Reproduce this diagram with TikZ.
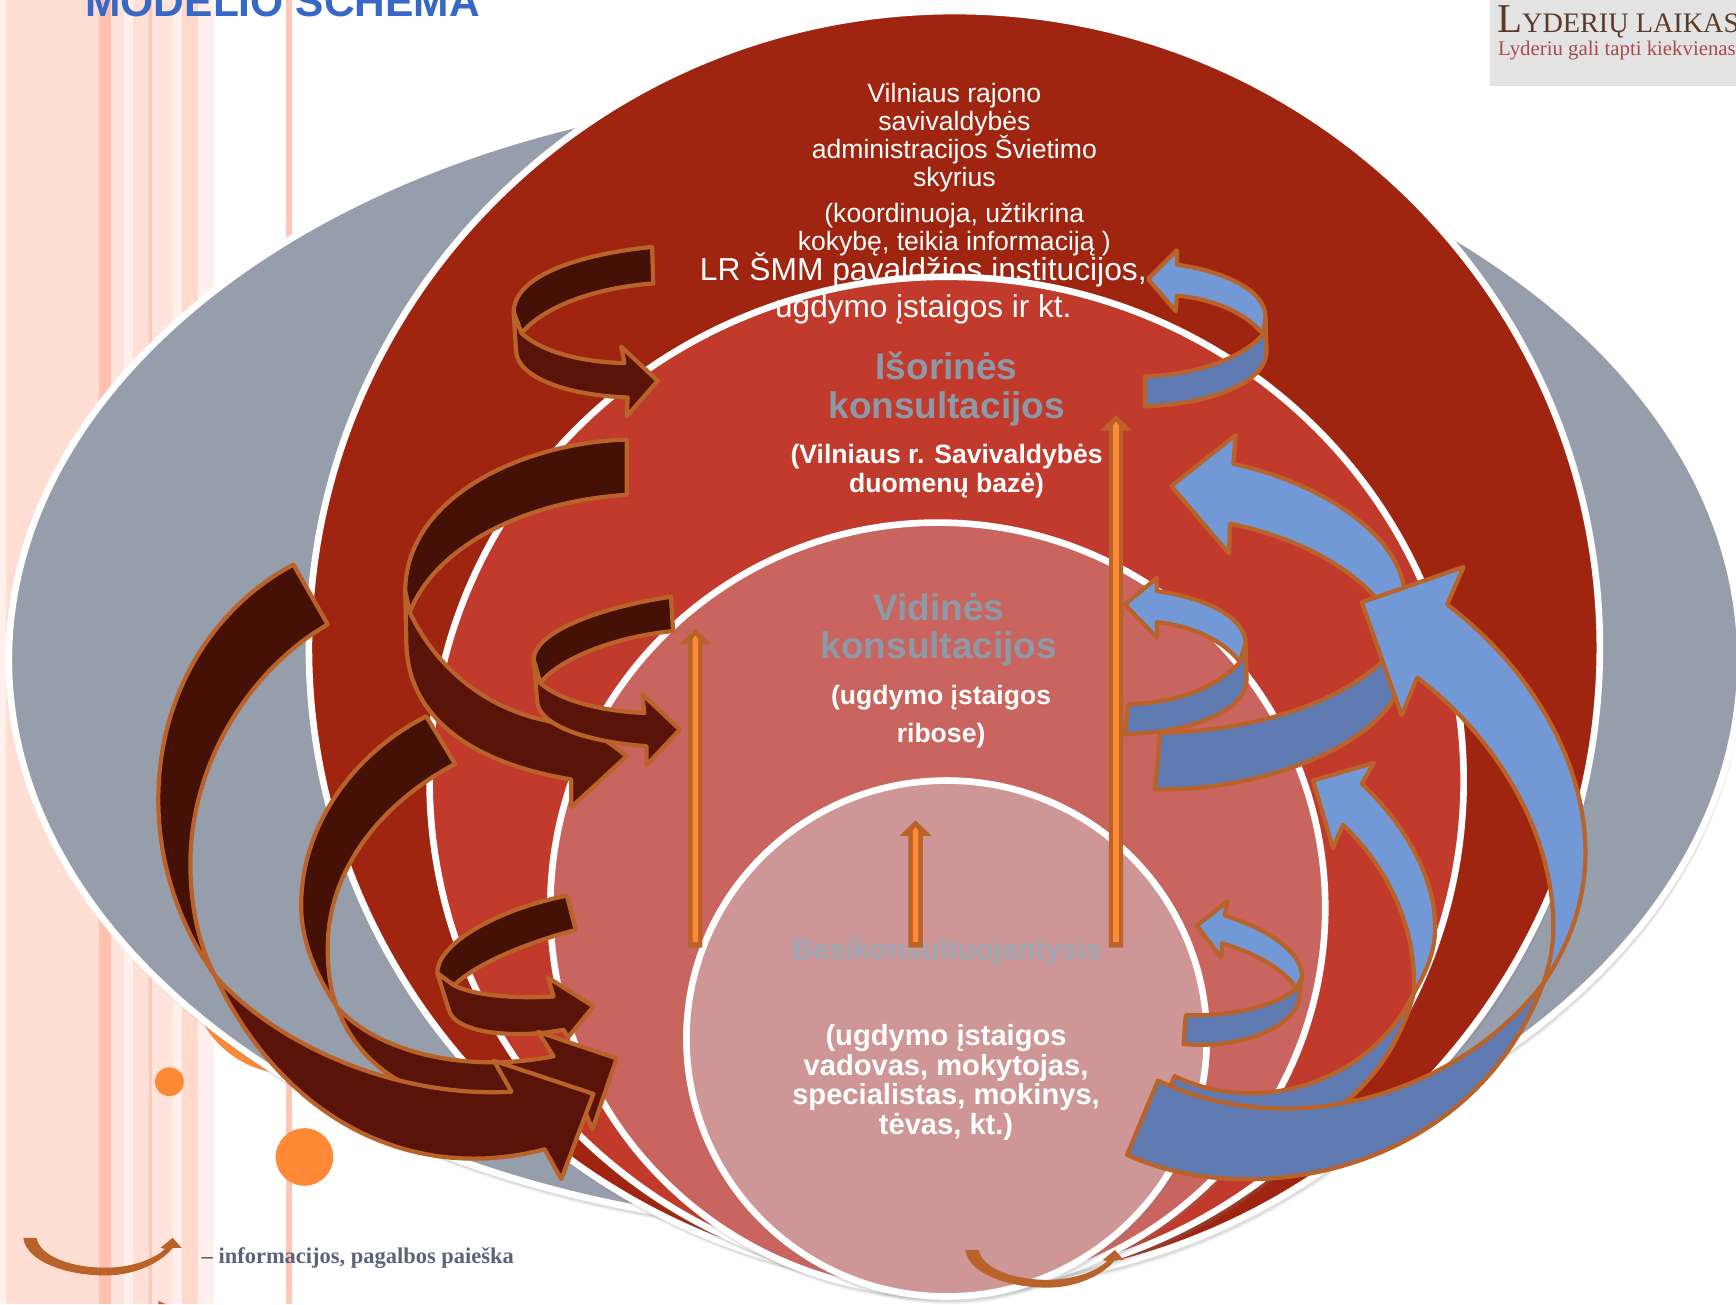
\documentclass[tikz,border=0pt]{standalone}
\usepackage{fontspec}
\setmainfont{Liberation Sans}
\newfontfamily\logofont{Liberation Serif}
\usetikzlibrary{shadows}
\lineskiplimit=-20pt
\definecolor{greydisc}{HTML}{969EAB}
\definecolor{reddisc}{HTML}{A02510}
\definecolor{middisc}{HTML}{C23A2B}
\definecolor{softdisc}{HTML}{C9655E}
\definecolor{pinkdisc}{HTML}{CE9696}
\definecolor{arrowedge}{HTML}{B9622A}
\definecolor{darktop}{HTML}{451006}
\definecolor{darklow}{HTML}{5A1308}
\definecolor{bluetop}{HTML}{7398D6}
\definecolor{bluelow}{HTML}{5F7AB0}
\definecolor{dotorange}{HTML}{FF8A36}
\definecolor{titleblue}{HTML}{3768C6}
\definecolor{headgrey}{HTML}{8E99A8}
\definecolor{legendgrey}{HTML}{5A6378}
\definecolor{logobrown}{HTML}{5C3A28}
\definecolor{logored}{HTML}{A94A4A}
\definecolor{stripeA}{HTML}{FFF0EC}
\definecolor{stripeB}{HTML}{FEDDD3}
\definecolor{stripeC}{HTML}{FFC0AE}
\definecolor{stripeD}{HTML}{FFE4DD}
\definecolor{stripeE}{HTML}{FFDFD6}
\definecolor{stripeF}{HTML}{FFC5B5}
\definecolor{stripeG}{HTML}{FFD9CC}
\tikzset{
  disc/.style={draw=white, line width=6pt,
    drop shadow={shadow xshift=2pt, shadow yshift=-7pt, opacity=.1},
    drop shadow={shadow xshift=1.5pt, shadow yshift=-5.5pt, opacity=.18}},
  ribbon/.style={draw=arrowedge, line width=3.8pt, line join=round},
  leftup/.style={ribbon, fill=darktop},
  leftlow/.style={ribbon, fill=darklow},
  rightup/.style={ribbon, fill=bluetop},
  rightlow/.style={ribbon, fill=bluelow},
  whitetext/.style={text=white, align=center, inner sep=0pt, anchor=base},
  headtext/.style={text=headgrey, align=center, inner sep=0pt, anchor=base, font=\bfseries\fontsize{33.4}{35}\selectfont},
}
\begin{document}
\begin{tikzpicture}[x=1pt, y=-1pt]
  \useasboundingbox (0,0) rectangle (1568,1178);
  \clip (0,0) rectangle (1568,1178);
  \fill[white] (0,0) rectangle (1568,1178);

  % Juostos
  \foreach \xa/\xb/\col in {0/5/stripeA, 5/89/stripeB, 89/100/stripeC, 100/112/stripeD, 112/120/stripeA, 120/135/stripeE, 135/137/stripeF, 137/149/stripeD, 149/156/stripeD, 156/164/stripeA, 164/179/stripeG, 179/193/stripeA, 258/264/stripeF}
    \fill[\col] (\xa,0) rectangle (\xb,1178);

  % Taskai
  \fill[dotorange] (262,880) circle (90);
  \fill[dotorange] (153,977) circle (13);
  \fill[dotorange] (275,1045) circle (26);

  % Pavadinimas
  \node[anchor=base west, inner sep=0pt, text=titleblue, font=\bfseries\fontsize{38.4}{40}\selectfont] (title) at (77,15) {MODELIO SCHEMA};
  \fill[black!11] (1346,0) rectangle (1568,78);
  \node[anchor=base west, inner sep=0pt, text=logobrown, font=\logofont\fontsize{25.5}{30}\selectfont] (logoa) at (1352,29) {{\fontsize{37}{38}\selectfont L}YDERIŲ LAIKAS};
  \node[anchor=base west, inner sep=0pt, text=logored, font=\logofont\fontsize{18.8}{20}\selectfont] (logob) at (1353,50) {Lyderiu gali tapti kiekvienas};

  % Skrituliai
  \path[disc, fill=greydisc] (790,596) ellipse [x radius=782, y radius=515];
  \path[disc, fill=reddisc] (862,585) ellipse [x radius=583, y radius=575];
  \node[anchor=base west, inner sep=0pt, text=white, font=\fontsize{28.7}{30}\selectfont] (lrsmm) at (632,253.5) {LR ŠMM pavaldžios institucijos,};
  \path[disc, fill=middisc] (855,705) ellipse [x radius=467, y radius=455];
  \path[disc, fill=softdisc] (847,820) ellipse [x radius=350, y radius=348];
  \path[disc, fill=pinkdisc] (855,938) ellipse [x radius=235, y radius=233];

  % Tekstai
  \node[whitetext, font=\fontsize{24}{25}\selectfont] (svietimas) at (862,168) {Vilniaus rajono\\savivaldybės\\administracijos Švietimo\\skyrius};
  \node[whitetext, font=\fontsize{24}{25.5}\selectfont] (kokybe) at (862,226.5) {(koordinuoja, užtikrina\\kokybę, teikia informaciją )};
  \node[whitetext, font=\fontsize{28.5}{30}\selectfont] (ugdymas) at (834,286.5) {ugdymo įstaigos ir kt.};
  \node[headtext] (isorines) at (855,378) {Išorinės\\konsultacijos};
  \node[whitetext, font=\bfseries\fontsize{24}{26}\selectfont] (baze) at (855,444.5) {(Vilniaus r. Savivaldybės\\duomenų bazė)};
  \node[headtext] (vidines) at (848,595) {Vidinės\\konsultacijos};
  \node[whitetext, font=\bfseries\fontsize{24}{35}\selectfont] (ribose) at (850,671) {(ugdymo įstaigos\\ribose)};
  \node[text=headgrey!85!white, inner sep=0pt, anchor=base, font=\bfseries\fontsize{26.4}{28}\selectfont] (besikons) at (855,867) {Besikonsultuojantysis};
  \node[whitetext, font=\bfseries\fontsize{26.3}{27}\selectfont] (vadovas) at (854.5,1025) {(ugdymo įstaigos\\vadovas, mokytojas,\\specialistas, mokinys,\\tėvas, kt.)};
  \node[anchor=base west, inner sep=0pt, text=legendgrey, font=\logofont\bfseries\fontsize{20.3}{22}\selectfont] (legenda) at (182,1141) {– informacijos, pagalbos paieška};

  % Rodyklės kairėje
  \draw[leftup] (589,223) .. controls (520,230) and (464,250) .. (464,282) -- (471,301) .. controls (490,278) and (535,260) .. (590,256) -- cycle;
  \draw[leftlow] (471,301) .. controls (490,318) and (525,327) .. (564,328) -- (561,313) -- (594,344) -- (566,376) -- (567,359) .. controls (510,357) and (466,340) .. (466,316) -- (464,282) -- cycle;

  \draw[leftup] (566,397) .. controls (470,400) and (366,450) .. (366,534) -- (370,553) .. controls (395,490) and (480,452) .. (566,447) -- cycle;
  \draw[leftlow] (370,553) .. controls (395,605) and (440,640) .. (494,651) -- (540,664) -- (553,673) -- (566,683) -- (516,729) -- (516,704) .. controls (430,690) and (367,650) .. (367,579) -- (366,534) -- cycle;

  \draw[leftup] (606,539) .. controls (545,548) and (482,570) .. (482,596) -- (488,617) .. controls (505,595) and (555,575) .. (608,570) -- cycle;
  \draw[leftlow] (488,617) .. controls (505,632) and (540,642) .. (582,644) -- (580,627) -- (614,659) -- (584,691) -- (584,674) .. controls (530,670) and (484,655) .. (485,631) -- (482,596) -- cycle;

  \draw[leftup] (512,809) .. controls (455,820) and (395,850) .. (395,879) -- (410,890) .. controls (430,870) and (480,850) .. (520,840) -- cycle;
  \draw[leftlow] (410,890) .. controls (430,900) and (470,902) .. (500,900) -- (495,883) -- (536,909) -- (513,937) -- (509,930) .. controls (470,938) and (410,935) .. (405,911) -- (395,879) -- cycle;

  \draw[leftlow] (304,909) .. controls (340,950) and (420,970) .. (500,954) -- (486,932) -- (557,956) -- (535,1020) -- (527,1000) .. controls (450,1005) and (340,1005) .. (304,909) -- cycle;
  \draw[leftup] (385,647) .. controls (320,680) and (272,745) .. (272,818) .. controls (272,850) and (285,880) .. (304,909) .. controls (298,893) and (296,875) .. (296,856) .. controls (296,785) and (345,725) .. (411,690) -- cycle;

  \draw[leftlow] (194,881) .. controls (250,945) and (360,992) .. (462,986) -- (446,958) -- (536,988) -- (507,1065) -- (492,1038) .. controls (370,1070) and (255,1010) .. (194,881) -- cycle;
  \draw[leftup] (265,510) .. controls (190,550) and (143,630) .. (143,722) .. controls (143,785) and (165,840) .. (194,881) .. controls (178,850) and (172,815) .. (172,780) .. controls (172,690) and (225,605) .. (296,564) -- cycle;

  % Rodyklės dešinėje
  \draw[rightlow] (1141,302) .. controls (1120,325) and (1080,338) .. (1034,340) -- (1034,367) .. controls (1095,365) and (1144,345) .. (1144,317) -- (1143,286) -- cycle;
  \draw[rightup] (1063,239) -- (1063,226) -- (1037,252) -- (1062,281) -- (1063,267) .. controls (1095,270) and (1125,282) .. (1141,302) -- (1143,286) .. controls (1143,262) and (1105,245) .. (1063,239) -- cycle;

  \draw[rightlow] (1247,599) .. controls (1200,640) and (1125,660) .. (1048,662) -- (1043,713) .. controls (1130,715) and (1230,680) .. (1259,631) -- (1265,600) -- (1250,595) -- cycle;
  \draw[rightup] (1114,419) -- (1116,393) -- (1058,439) -- (1110,500) -- (1111,473) .. controls (1170,485) and (1215,510) .. (1242,539) -- (1250,595) -- (1270,570) -- (1268,530) .. controls (1260,480) and (1190,435) .. (1114,419) -- cycle;

  \draw[rightlow] (1120,598) .. controls (1100,620) and (1065,635) .. (1019,636) -- (1016,663) .. controls (1080,662) and (1126,640) .. (1126,614) -- (1125,581) -- cycle;
  \draw[rightup] (1045,534) -- (1045,522) -- (1016,546) -- (1045,576) -- (1045,562) .. controls (1075,565) and (1105,578) .. (1120,598) -- (1125,581) .. controls (1125,558) and (1090,540) .. (1045,534) -- cycle;

  \draw[rightlow] (1171,893) .. controls (1150,910) and (1110,918) .. (1071,917) -- (1069,943) .. controls (1125,948) and (1175,925) .. (1174,897) -- (1176,882) -- cycle;
  \draw[rightup] (1106,827) -- (1109,814) -- (1081,836) -- (1103,865) -- (1104,852) .. controls (1130,860) and (1158,873) .. (1171,893) -- (1176,882) .. controls (1176,858) and (1140,837) .. (1106,827) -- cycle;

  \draw[rightlow] (1277,897) .. controls (1240,975) and (1140,1010) .. (1061,972) -- (1040,1020) .. controls (1150,1060) and (1250,1000) .. (1277,897) -- cycle;
  \draw[rightup] (1230,708) -- (1241,689) -- (1186,705) -- (1204,766) -- (1213,745) .. controls (1255,785) and (1280,840) .. (1277,897) .. controls (1290,875) and (1297,855) .. (1296,837) .. controls (1297,800) and (1275,750) .. (1230,708) -- cycle;

  \draw[rightlow] (1394,888) .. controls (1320,985) and (1170,1035) .. (1046,976) -- (1018,1043) .. controls (1130,1095) and (1330,1060) .. (1394,888) -- cycle;
  \draw[rightup] (1307,546) -- (1322,512) -- (1230,544) -- (1266,646) -- (1280,612) .. controls (1350,665) and (1403,750) .. (1403,837) .. controls (1403,855) and (1400,870) .. (1394,888) .. controls (1420,850) and (1432,810) .. (1432,770) .. controls (1432,690) and (1385,605) .. (1307,546) -- cycle;

  % Oranzinės rodyklės
  \foreach \px/\py in {628/568, 827/741, 1008/375} {
    \fill[arrowedge] (\px-6.5,856) -- (\px-6.5,\py+14) -- (\px-14.5,\py+14) -- (\px,\py) -- (\px+14.5,\py+14) -- (\px+6.5,\py+14) -- (\px+6.5,856) -- cycle;
    \fill[dotorange] (\px-2.5,851) -- (\px-2.5,\py+9) -- (\px,\py+6) -- (\px+2.5,\py+9) -- (\px+2.5,851) -- cycle;
  }

  % Mazos rodyklės
  \foreach \ax/\ay in {21/1118, 872/1129} {
    \begin{scope}[shift={(\ax,\ay)}]
      \fill[arrowedge] (0,0) .. controls (3,22) and (40,34) .. (74,34) .. controls (104,34) and (127,20) .. (135,9) -- (143,9) -- (135,0) -- (124,9) -- (128,10) .. controls (120,18) and (100,27) .. (74,27) .. controls (44,27) and (15,17) .. (12,0) -- cycle;
    \end{scope}
  }
  \fill[arrowedge] (143,1175) -- (150,1178) -- (143,1178) -- cycle;
\end{tikzpicture}
\end{document}
